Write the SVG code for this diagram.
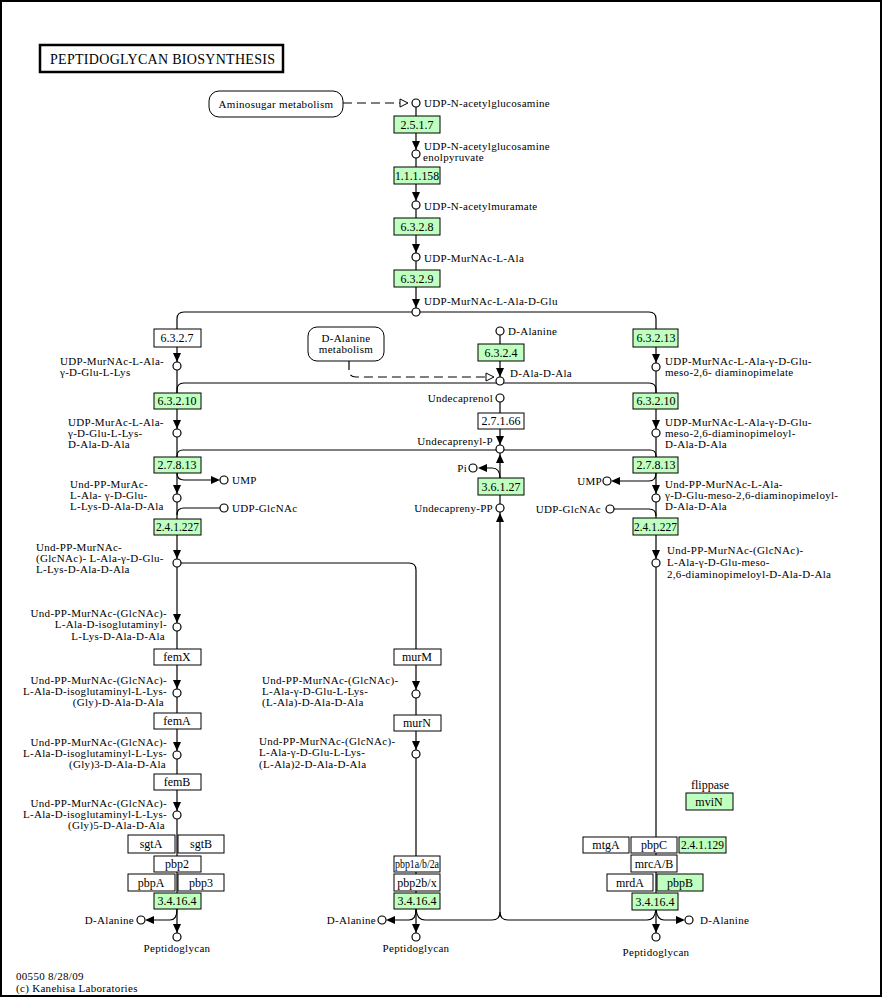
<svg xmlns="http://www.w3.org/2000/svg" width="883" height="998" viewBox="0 0 883 998">
<style>
text{font-family:"Liberation Serif","Times New Roman",serif;font-size:11px;letter-spacing:0.3px;fill:#000}
#enzymes text{font-size:12px;letter-spacing:0}
.m{text-anchor:middle}
.r{text-anchor:end}
.e{fill:#bfffbf;stroke:#000;stroke-width:1}
.w{fill:#fff;stroke:#000;stroke-width:1}
.c{fill:#fff;stroke:#000;stroke-width:1.2}
.ln{fill:none;stroke:#000;stroke-width:1.2}
.d{fill:none;stroke:#000;stroke-width:1.2;stroke-dasharray:9,5}
.map{fill:#fff;stroke:#000;stroke-width:1}
.ha{fill:#fff;stroke:#000;stroke-width:1}
</style>
<defs>
<path id="ad" d="M-4,-9 L4,-9 L0,0 Z" fill="#000"/>
</defs>
<rect x="1" y="1" width="880" height="995" fill="#fff" stroke="#000" stroke-width="2"/>
<g id="title">
<rect x="40" y="45" width="243" height="27" fill="#fff" stroke="#000" stroke-width="2.5"/>
<text x="50" y="64" style="font-size:14px;letter-spacing:0" textLength="225" lengthAdjust="spacing">PEPTIDOGLYCAN BIOSYNTHESIS</text>
</g>

<g id="connectors">
<path class="d" d="M343,103 H400"/>
<polygon class="ha" points="400,99 400,107 408,103"/>
<path class="ln" d="M416,107 V308"/>
<use href="#ad" transform="translate(416,150)"/>
<use href="#ad" transform="translate(416,201)"/>
<use href="#ad" transform="translate(416,253)"/>
<use href="#ad" transform="translate(416,308)"/>
<path class="ln" d="M177,329 V319 Q177,312 184,312 H649 Q656,312 656,319 V329"/>
<path class="ln" d="M177,393 V390 Q177,383 184,383 H649 Q656,383 656,390 V393"/>
<path class="ln" d="M177,457 V456 Q177,450 183,450 H650 Q656,450 656,456 V457"/>
<path class="ln" d="M177,347 V933"/>
<use href="#ad" transform="translate(177,362)"/>
<use href="#ad" transform="translate(177,429)"/>
<path class="ln" d="M177,473 Q177,480 184,480 H212"/>
<use href="#ad" transform="translate(220,480) rotate(-90)"/>
<use href="#ad" transform="translate(177,494)"/>
<path class="ln" d="M220,508 H184 Q177,508 177,515"/>
<use href="#ad" transform="translate(177,559)"/>
<path class="ln" d="M181,563 H409 Q416,563 416,570 V933"/>
<use href="#ad" transform="translate(177,623)"/>
<use href="#ad" transform="translate(177,689)"/>
<use href="#ad" transform="translate(177,751)"/>
<use href="#ad" transform="translate(177,811)"/>
<path class="ln" d="M177,909 Q177,920 170,920 H154"/>
<use href="#ad" transform="translate(145,920) rotate(90)"/>
<use href="#ad" transform="translate(177,933)"/>
<use href="#ad" transform="translate(416,690)"/>
<use href="#ad" transform="translate(416,750)"/>
<path class="ln" d="M416,909 Q416,920 409,920 H395"/>
<use href="#ad" transform="translate(386,920) rotate(90)"/>
<use href="#ad" transform="translate(416,933)"/>
<path class="ln" d="M416,909 Q417,920 425,920 H492 Q500,920 500,912"/>
<path class="ln" d="M656,909 Q655,920 647,920 H508 Q500,920 500,912"/>
<path class="ln" d="M500,335 V377"/>
<use href="#ad" transform="translate(500,377)"/>
<path class="d" d="M349,361 V370 Q349,377 356,377 H486"/>
<polygon class="ha" points="486,373 486,381 494,377"/>
<path class="ln" d="M500,402 V445"/>
<use href="#ad" transform="translate(500,445)"/>
<path class="ln" d="M500,453 V478"/>
<use href="#ad" transform="translate(500,454) rotate(180)"/>
<path class="ln" d="M500,478 Q500,468 492,468 H486"/>
<use href="#ad" transform="translate(478,468) rotate(90)"/>
<path class="ln" d="M500,495 V504"/>
<path class="ln" d="M500,512 V912"/>
<use href="#ad" transform="translate(500,513) rotate(180)"/>
<path class="ln" d="M656,347 V933"/>
<use href="#ad" transform="translate(656,363)"/>
<use href="#ad" transform="translate(656,429)"/>
<path class="ln" d="M656,473 Q656,481 649,481 H619"/>
<use href="#ad" transform="translate(611,481) rotate(90)"/>
<use href="#ad" transform="translate(656,494)"/>
<path class="ln" d="M614,509 H649 Q656,509 656,516"/>
<use href="#ad" transform="translate(656,559)"/>
<path class="ln" d="M656,909 Q657,920 664,920 H678"/>
<use href="#ad" transform="translate(685,920) rotate(-90)"/>
<use href="#ad" transform="translate(656,933)"/>
</g>

<g id="maps">
<g id="map-aminosugar"><rect class="map" x="209" y="91" width="134" height="26" rx="10"/><text class="m" x="276" y="108">Aminosugar metabolism</text></g>
<g id="map-dalanine"><rect class="map" x="308" y="327" width="76" height="34" rx="9"/><text class="m" x="346" y="342">D-Alanine</text><text class="m" x="346" y="353">metabolism</text></g>
</g>

<g id="enzymes">
<g id="e2517"><rect class="e" x="394" y="116" width="46" height="17"/><text class="m" x="417" y="129">2.5.1.7</text></g>
<g id="e111158"><rect class="e" x="394" y="167" width="46" height="17"/><text x="395" y="180" textLength="44" lengthAdjust="spacingAndGlyphs">1.1.1.158</text></g>
<g id="e6328"><rect class="e" x="394" y="218" width="46" height="17"/><text class="m" x="417" y="231">6.3.2.8</text></g>
<g id="e6329"><rect class="e" x="394" y="270" width="46" height="17"/><text class="m" x="417" y="283">6.3.2.9</text></g>
<g id="e6327"><rect class="w" x="154" y="329" width="47" height="18"/><text class="m" x="177" y="342">6.3.2.7</text></g>
<g id="e63210a"><rect class="e" x="154" y="393" width="47" height="16"/><text class="m" x="177" y="405">6.3.2.10</text></g>
<g id="e27813a"><rect class="e" x="154" y="457" width="47" height="16"/><text class="m" x="177" y="469">2.7.8.13</text></g>
<g id="e241227a"><rect class="e" x="154" y="519" width="47" height="16"/><text x="156" y="531" textLength="43" lengthAdjust="spacingAndGlyphs">2.4.1.227</text></g>
<g id="femX"><rect class="w" x="154" y="649" width="47" height="16"/><text class="m" x="177" y="661">femX</text></g>
<g id="femA"><rect class="w" x="154" y="713" width="47" height="16"/><text class="m" x="177" y="725">femA</text></g>
<g id="femB"><rect class="w" x="154" y="774" width="47" height="16"/><text class="m" x="177" y="786">femB</text></g>
<g id="sgtA"><rect class="w" x="128" y="835" width="47" height="18"/><text class="m" x="151" y="848">sgtA</text></g>
<g id="sgtB"><rect class="w" x="178" y="835" width="46" height="18"/><text class="m" x="201" y="848">sgtB</text></g>
<g id="pbp2"><rect class="w" x="154" y="856" width="47" height="16"/><text class="m" x="177" y="868">pbp2</text></g>
<g id="pbpA"><rect class="w" x="128" y="874" width="47" height="17"/><text class="m" x="151" y="887">pbpA</text></g>
<g id="pbp3"><rect class="w" x="178" y="874" width="46" height="17"/><text class="m" x="201" y="887">pbp3</text></g>
<g id="e34164a"><rect class="e" x="154" y="893" width="47" height="16"/><text class="m" x="177" y="905">3.4.16.4</text></g>
<g id="murM"><rect class="w" x="394" y="649" width="47" height="16"/><text class="m" x="417" y="661">murM</text></g>
<g id="murN"><rect class="w" x="394" y="715" width="47" height="16"/><text class="m" x="417" y="727">murN</text></g>
<g id="pbp1ab2a"><rect class="w" x="394" y="856" width="46" height="16"/><text x="395" y="868" textLength="44" lengthAdjust="spacingAndGlyphs">pbp1a/b/2a</text></g>
<g id="pbp2bx"><rect class="w" x="394" y="874" width="46" height="17"/><text class="m" x="417" y="887">pbp2b/x</text></g>
<g id="e34164b"><rect class="e" x="394" y="893" width="46" height="16"/><text class="m" x="417" y="905">3.4.16.4</text></g>
<g id="e6324"><rect class="e" x="478" y="344" width="46" height="17"/><text class="m" x="501" y="357">6.3.2.4</text></g>
<g id="e27166"><rect class="w" x="478" y="413" width="46" height="16"/><text class="m" x="501" y="425">2.7.1.66</text></g>
<g id="e36127"><rect class="e" x="478" y="478" width="46" height="17"/><text class="m" x="501" y="491">3.6.1.27</text></g>
<g id="e63213"><rect class="e" x="633" y="329" width="45" height="18"/><text class="m" x="656" y="342">6.3.2.13</text></g>
<g id="e63210b"><rect class="e" x="633" y="393" width="45" height="16"/><text class="m" x="656" y="405">6.3.2.10</text></g>
<g id="e27813b"><rect class="e" x="633" y="457" width="45" height="16"/><text class="m" x="656" y="469">2.7.8.13</text></g>
<g id="e241227b"><rect class="e" x="633" y="518" width="45" height="17"/><text x="634" y="531" textLength="43" lengthAdjust="spacingAndGlyphs">2.4.1.227</text></g>
<g id="mviN"><text class="m" x="710" y="789">flippase</text><rect class="e" x="686" y="793" width="47" height="17"/><text class="m" x="709" y="806">mviN</text></g>
<g id="mtgA"><rect class="w" x="583" y="837" width="46" height="16"/><text class="m" x="606" y="849">mtgA</text></g>
<g id="pbpC"><rect class="w" x="631" y="837" width="46" height="16"/><text class="m" x="654" y="849">pbpC</text></g>
<g id="e241129"><rect class="e" x="679" y="837" width="47" height="16"/><text x="681" y="849" textLength="43" lengthAdjust="spacingAndGlyphs">2.4.1.129</text></g>
<g id="mrcAB"><rect class="w" x="631" y="855" width="46" height="17"/><text class="m" x="654" y="868">mrcA/B</text></g>
<g id="mrdA"><rect class="w" x="607" y="874" width="46" height="17"/><text class="m" x="630" y="887">mrdA</text></g>
<g id="pbpB"><rect class="e" x="657" y="874" width="46" height="17"/><text class="m" x="680" y="887">pbpB</text></g>
<g id="e34164c"><rect class="e" x="632" y="893" width="46" height="17"/><text class="m" x="655" y="906">3.4.16.4</text></g>
</g>

<g id="compounds">
<g id="c1"><circle class="c" cx="416" cy="103" r="4"/><text x="424" y="107">UDP-N-acetylglucosamine</text></g>
<g id="c2"><circle class="c" cx="416" cy="154" r="4"/><text x="424" y="150">UDP-N-acetylglucosamine</text><text x="423" y="161">enolpyruvate</text></g>
<g id="c3"><circle class="c" cx="416" cy="205" r="4"/><text x="424" y="210">UDP-N-acetylmuramate</text></g>
<g id="c4"><circle class="c" cx="416" cy="257" r="4"/><text x="424" y="262">UDP-MurNAc-L-Ala</text></g>
<g id="c5"><circle class="c" cx="416" cy="312" r="4"/><text x="424" y="305">UDP-MurNAc-L-Ala-D-Glu</text></g>
<g id="c6"><circle class="c" cx="177" cy="366" r="4"/><text x="60" y="365">UDP-MurNAc-L-Ala-</text><text x="60" y="376">γ-D-Glu-L-Lys</text></g>
<g id="c7"><circle class="c" cx="177" cy="433" r="4"/><text x="68" y="426">UDP-MurAc-L-Ala-</text><text x="68" y="437">γ-D-Glu-L-Lys-</text><text x="68" y="448">D-Ala-D-Ala</text></g>
<g id="c8"><circle class="c" cx="224" cy="480" r="4"/><text x="232" y="484">UMP</text></g>
<g id="c9"><circle class="c" cx="177" cy="498" r="4"/><text x="70" y="488">Und-PP-MurAc-</text><text x="70" y="499">L-Ala- γ-D-Glu-</text><text x="70" y="510">L-Lys-D-Ala-D-Ala</text></g>
<g id="c10"><circle class="c" cx="224" cy="508" r="4"/><text x="232" y="512">UDP-GlcNAc</text></g>
<g id="c11"><circle class="c" cx="177" cy="563" r="4"/><text x="36" y="551">Und-PP-MurNAc-</text><text x="36" y="562">(GlcNAc)- L-Ala-γ-D-Glu-</text><text x="36" y="573">L-Lys-D-Ala-D-Ala</text></g>
<g id="c12"><circle class="c" cx="177" cy="627" r="4"/><text class="r" x="167" y="617">Und-PP-MurNAc-(GlcNAc)-</text><text class="r" x="167" y="628">L-Ala-D-isoglutaminyl-</text><text class="r" x="165" y="640">L-Lys-D-Ala-D-Ala</text></g>
<g id="c13"><circle class="c" cx="177" cy="693" r="4"/><text class="r" x="167" y="684">Und-PP-MurNAc-(GlcNAc)-</text><text class="r" x="167" y="695">L-Ala-D-isoglutaminyl-L-Lys-</text><text class="r" x="164" y="706">(Gly)-D-Ala-D-Ala</text></g>
<g id="c14"><circle class="c" cx="177" cy="755" r="4"/><text class="r" x="167" y="746">Und-PP-MurNAc-(GlcNAc)-</text><text class="r" x="167" y="757">L-Ala-D-isoglutaminyl-L-Lys-</text><text class="r" x="166" y="768">(Gly)3-D-Ala-D-Ala</text></g>
<g id="c15"><circle class="c" cx="177" cy="815" r="4"/><text class="r" x="167" y="807">Und-PP-MurNAc-(GlcNAc)-</text><text class="r" x="167" y="818">L-Ala-D-isoglutaminyl-L-Lys-</text><text class="r" x="165" y="829">(Gly)5-D-Ala-D-Ala</text></g>
<g id="c16"><circle class="c" cx="141" cy="920" r="4"/><text class="r" x="134" y="924">D-Alanine</text></g>
<g id="c17"><circle class="c" cx="177" cy="937" r="4"/><text class="m" x="177" y="952">Peptidoglycan</text></g>
<g id="c18"><circle class="c" cx="416" cy="694" r="4"/><text x="262" y="684">Und-PP-MurNAc-(GlcNAc)-</text><text x="262" y="695">L-Ala-γ-D-Glu-L-Lys-</text><text x="262" y="706">(L-Ala)-D-Ala-D-Ala</text></g>
<g id="c19"><circle class="c" cx="416" cy="754" r="4"/><text x="259" y="745">Und-PP-MurNAc-(GlcNAc)-</text><text x="259" y="756">L-Ala-γ-D-Glu-L-Lys-</text><text x="259" y="768">(L-Ala)2-D-Ala-D-Ala</text></g>
<g id="c20"><circle class="c" cx="382" cy="920" r="4"/><text class="r" x="376" y="924">D-Alanine</text></g>
<g id="c21"><circle class="c" cx="416" cy="937" r="4"/><text class="m" x="416" y="952">Peptidoglycan</text></g>
<g id="c22"><circle class="c" cx="500" cy="331" r="4"/><text x="508" y="335">D-Alanine</text></g>
<g id="c23"><circle class="c" cx="500" cy="381" r="4"/><text x="510" y="377">D-Ala-D-Ala</text></g>
<g id="c24"><circle class="c" cx="500" cy="398" r="4"/><text class="r" x="493" y="402">Undecaprenol</text></g>
<g id="c25"><circle class="c" cx="500" cy="449" r="4"/><text class="r" x="493" y="445">Undecaprenyl-P</text></g>
<g id="c26"><circle class="c" cx="473" cy="468" r="4"/><text class="r" x="467" y="472">Pi</text></g>
<g id="c27"><circle class="c" cx="500" cy="508" r="4"/><text class="r" x="493" y="512">Undecapreny-PP</text></g>
<g id="c28"><circle class="c" cx="656" cy="367" r="4"/><text x="665" y="365">UDP-MurNAc-L-Ala-γ-D-Glu-</text><text x="665" y="376">meso-2,6- diaminopimelate</text></g>
<g id="c29"><circle class="c" cx="656" cy="433" r="4"/><text x="665" y="426">UDP-MurNAc-L-Ala-γ-D-Glu-</text><text x="665" y="437">meso-2,6-diaminopimeloyl-</text><text x="665" y="448">D-Ala-D-Ala</text></g>
<g id="c30"><circle class="c" cx="607" cy="481" r="4"/><text class="r" x="602" y="485">UMP</text></g>
<g id="c31"><circle class="c" cx="656" cy="498" r="4"/><text x="665" y="488">Und-PP-MurNAc-L-Ala-</text><text x="665" y="499">γ-D-Glu-meso-2,6-diaminopimeloyl-</text><text x="665" y="510">D-Ala-D-Ala</text></g>
<g id="c32"><circle class="c" cx="610" cy="509" r="4"/><text class="r" x="601" y="513">UDP-GlcNAc</text></g>
<g id="c33"><circle class="c" cx="656" cy="563" r="4"/><text x="667" y="554">Und-PP-MurNAc-(GlcNAc)-</text><text x="667" y="566">L-Ala-γ-D-Glu-meso-</text><text x="667" y="578">2,6-diaminopimeloyl-D-Ala-D-Ala</text></g>
<g id="c34"><circle class="c" cx="689" cy="920" r="4"/><text x="700" y="924">D-Alanine</text></g>
<g id="c35"><circle class="c" cx="656" cy="937" r="4"/><text class="m" x="656" y="956">Peptidoglycan</text></g>
</g>

<g id="footer">
<text x="16" y="980">00550 8/28/09</text>
<text x="16" y="992">(c) Kanehisa Laboratories</text>
</g>
</svg>
